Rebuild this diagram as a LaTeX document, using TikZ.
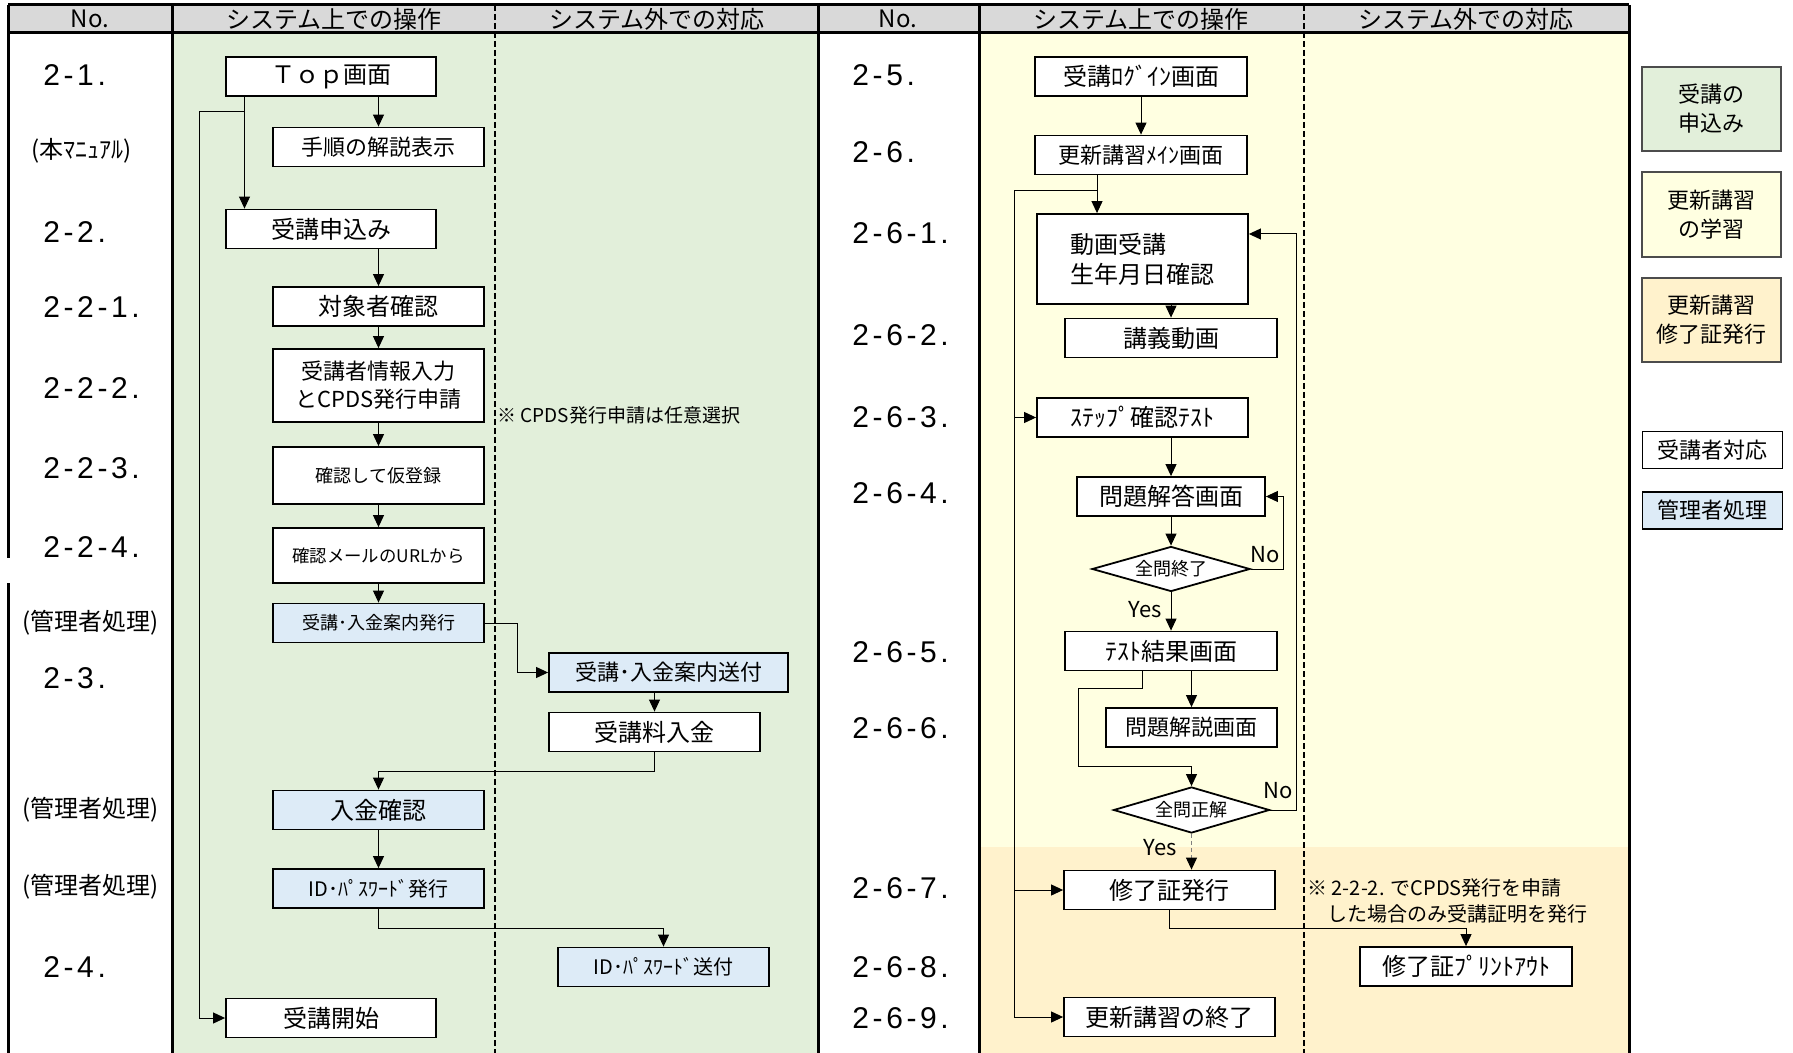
\documentclass[tikz,border=0pt]{standalone}
\usepackage{fontspec}
\setmainfont{Noto Sans CJK JP}
\newfontfamily\numfont[LetterSpace=12]{Liberation Sans}
\usepackage{tikz}
\usepackage{xcolor}
\usetikzlibrary{arrows.meta,shapes.geometric}

\definecolor{hdgray}{HTML}{D9D9D9}
\definecolor{appgreen}{HTML}{E2EFDA}
\definecolor{stdyellow}{HTML}{FFFFE1}
\definecolor{crtorange}{HTML}{FFF2CC}
\definecolor{admblue}{HTML}{DDEBF7}

\begin{document}
\begin{tikzpicture}[x=0.5pt,y=-0.5pt,
  >={Triangle[length=6pt,width=5.5pt]},
  wbox/.style={draw,line width=0.9pt,fill=white,minimum width=105pt,minimum height=19.5pt,inner sep=0pt,align=center,font=\fontsize{12}{14}\selectfont},
  abox/.style={wbox,fill=admblue},
  decision/.style={diamond,draw,line width=0.9pt,fill=white,aspect=3.5,minimum width=79pt,minimum height=22.5pt,inner sep=0pt,font=\fontsize{9}{10}\selectfont},
  numlbl/.style={anchor=west,inner sep=0pt,font=\numfont\fontsize{15}{17}\selectfont},
  lbl/.style={anchor=west,inner sep=0pt,font=\fontsize{12}{14}\selectfont},
  hd/.style={inner sep=0pt,font=\fontsize{12}{14}\selectfont},
  yn/.style={inner sep=0pt,font=\fontsize{11}{13}\selectfont},
  remark/.style={anchor=west,inner sep=0pt,align=left,font=\fontsize{9.5}{13}\selectfont},
  keybox/.style={draw=black!70,line width=0.8pt,minimum width=69.5pt,inner sep=0pt,align=center,font=\fontsize{11}{14.5}\selectfont},
  edgeline/.style={line width=1.5pt},
  dashline/.style={line width=1.2pt,dash pattern=on 3pt off 1.5pt},
  link/.style={->,line width=0.5pt}]
\useasboundingbox (0,0) rectangle (1793,1053);

% backgrounds
\fill[hdgray] (8,5) rectangle (1629,33);
\fill[appgreen] (172,33) rectangle (818,1053);
\fill[stdyellow] (979,33) rectangle (1629,847);
\fill[crtorange] (979,847) rectangle (1629,1053);

% table lines
\draw[edgeline] (8,5) -- (1629,5);
\draw[edgeline] (8,33) -- (1629,33);
\draw[edgeline] (8,5) -- (8,558);
\draw[edgeline] (8,583) -- (8,1053);
\draw[edgeline] (172,5) -- (172,1053);
\draw[edgeline] (818,5) -- (818,1053);
\draw[edgeline] (979,5) -- (979,1053);
\draw[edgeline] (1629,5) -- (1629,1053);
\draw[dashline] (495,5) -- (495,1053);
\draw[dashline] (1304,5) -- (1304,1053);

\node[hd] (h1) at (90,19) {No.};
\node[hd] (h2) at (334,19) {システム上での操作};
\node[hd] (h3) at (657,19) {システム外での対応};
\node[hd] (h4) at (898,19) {No.};
\node[hd] (h5) at (1141,19) {システム上での操作};
\node[hd] (h6) at (1466,19) {システム外での対応};

% numbers, left
\node[numlbl] (n1) at (43,75) {2-1.};
\node[lbl] (n2) at (31,151) {(本ﾏﾆｭｱﾙ)};
\node[numlbl] (n3) at (43,232) {2-2.};
\node[numlbl] (n4) at (43,307) {2-2-1.};
\node[numlbl] (n5) at (43,388) {2-2-2.};
\node[numlbl] (n6) at (43,468) {2-2-3.};
\node[numlbl] (n7) at (43,547) {2-2-4.};
\node[lbl] (n8) at (22,623) {(管理者処理)};
\node[numlbl] (n9) at (43,678) {2-3.};
\node[lbl] (n10) at (22,810) {(管理者処理)};
\node[lbl] (n11) at (22,887) {(管理者処理)};
\node[numlbl] (n12) at (43,967) {2-4.};

% numbers, right
\node[numlbl] (m1) at (852,75) {2-5.};
\node[numlbl] (m2) at (852,152) {2-6.};
\node[numlbl] (m3) at (852,233) {2-6-1.};
\node[numlbl] (m4) at (852,335) {2-6-2.};
\node[numlbl] (m5) at (852,417) {2-6-3.};
\node[numlbl] (m6) at (852,493) {2-6-4.};
\node[numlbl] (m7) at (852,652) {2-6-5.};
\node[numlbl] (m8) at (852,728) {2-6-6.};
\node[numlbl] (m9) at (852,888) {2-6-7.};
\node[numlbl] (m10) at (852,967) {2-6-8.};
\node[numlbl] (m11) at (852,1018) {2-6-9.};

% application flow
\node[wbox] (a1) at (331,76.5) {Ｔｏｐ画面};
\node[wbox,minimum width=105.5pt,font=\fontsize{11}{13}\selectfont] (a2) at (378.5,147) {手順の解説表示};
\node[wbox] (a3) at (331,229) {受講申込み};
\node[wbox,minimum width=105.5pt] (a4) at (378.5,306.5) {対象者確認};
\node[wbox,minimum width=105.5pt,minimum height=36.5pt,font=\fontsize{11}{14}\selectfont] (a5) at (378.5,385.5) {受講者情報入力\\とCPDS発行申請};
\node[wbox,minimum width=105.5pt,minimum height=28.5pt,font=\fontsize{9}{11}\selectfont] (a6) at (378.5,475.5) {確認して仮登録};
\node[wbox,minimum width=105.5pt,minimum height=27.5pt,font=\fontsize{8.7}{11}\selectfont] (a7) at (378.5,555.5) {確認メールのURLから};
\node[abox,minimum width=105.5pt,font=\fontsize{9}{11}\selectfont] (a8) at (378.5,623) {受講･入金案内発行};
\node[abox,minimum width=119.5pt,font=\fontsize{11}{13}\selectfont] (a9) at (668.5,672.5) {受講･入金案内送付};
\node[wbox,minimum width=105.5pt] (a10) at (654.5,732) {受講料入金};
\node[abox,minimum width=105.5pt] (a11) at (378.5,810) {入金確認};
\node[abox,minimum width=105.5pt,font=\fontsize{10}{12}\selectfont] (a12) at (378.5,888.5) {ID･ﾊﾟｽﾜｰﾄﾞ発行};
\node[abox,minimum width=105.5pt,font=\fontsize{10}{12}\selectfont] (a13) at (663.5,967) {ID･ﾊﾟｽﾜｰﾄﾞ送付};
\node[wbox] (a14) at (331,1018) {受講開始};
\node[remark] (r1) at (497,415) {※ CPDS発行申請は任意選択};

\coordinate (c1) at (244.5,112);
\coordinate (c2) at (199,112);
\coordinate (c3) at (517,623);
\coordinate (c4) at (654.5,771);
\coordinate (c5) at (378.5,928);
\draw[link] (a1.south -| a2.north) -- (a2.north);
\draw[line width=0.5pt] (a1.south -| c1) -- (c1);
\draw[link] (c1) -- (a3.north -| c1);
\draw[link] (c1) -- (c2) |- (a14.west);
\draw[link] (a3.south -| a4.north) -- (a4.north);
\draw[link] (a4) -- (a5);
\draw[link] (a5) -- (a6);
\draw[link] (a6) -- (a7);
\draw[link] (a7) -- (a8);
\draw[link] (a8.east) -- (c3) |- (a9.west);
\draw[link] (a9.south -| a10.north) -- (a10.north);
\draw[link] (a10.south) -- (c4) -| (a11.north);
\draw[link] (a11) -- (a12);
\draw[link] (a12.south) -- (c5) -| (a13.north);

% study flow
\node[wbox,minimum width=106pt] (b1) at (1141,76.5) {受講ﾛｸﾞｲﾝ画面};
\node[wbox,minimum width=106pt,font=\fontsize{11}{13}\selectfont] (b2) at (1141,155) {更新講習ﾒｲﾝ画面};
\node[wbox,minimum width=105.5pt,minimum height=45pt,align=left,font=\fontsize{12}{15}\selectfont] (b3) at (1142.5,259) {動画受講\\生年月日確認};
\node[wbox,minimum width=106pt] (b4) at (1171,338) {講義動画};
\node[wbox,minimum width=105.5pt] (b5) at (1142.5,417.5) {ｽﾃｯﾌﾟ確認ﾃｽﾄ};
\node[wbox,minimum width=94pt] (b6) at (1171,496.5) {問題解答画面};
\node[decision] (d1) at (1171,569) {全問終了};
\node[wbox,minimum width=106pt] (b7) at (1171,651) {ﾃｽﾄ結果画面};
\node[wbox,minimum width=85.5pt,font=\fontsize{11}{13}\selectfont] (b8) at (1191.5,727.5) {問題解説画面};
\node[decision,minimum width=78pt,minimum height=23pt] (d2) at (1191.5,810) {全問正解};
\node[wbox,minimum width=105.5pt] (b9) at (1169.5,890) {修了証発行};
\node[wbox,minimum width=106pt] (b10) at (1466,966.5) {修了証ﾌﾟﾘﾝﾄｱｳﾄ};
\node[wbox,minimum width=105.5pt] (b11) at (1169.5,1017) {更新講習の終了};
\node[remark,font=\fontsize{10}{13}\selectfont] (r2) at (1307,901) {※ 2-2-2. でCPDS発行を申請\\\hspace*{1em}した場合のみ受講証明を発行};
\node[yn] (y1) at (1265,555) {No};
\node[yn] (y2) at (1145,610) {Yes};
\node[yn] (y3) at (1278,791) {No};
\node[yn] (y4) at (1160,848) {Yes};

\coordinate (e1) at (1097,191);
\coordinate (e2) at (1014,191);
\coordinate (e3) at (1283,569);
\coordinate (e4) at (1142,688);
\coordinate (e5) at (1078,766);
\coordinate (e6) at (1296,810);
\coordinate (e7) at (1296,234);
\coordinate (e8) at (1169.5,928);
\draw[link] (b1) -- (b2);
\draw[line width=0.5pt] (b2.south -| e1) -- (e1);
\draw[link] (e1) -- (b3.north -| e1);
\draw[link] (e1) -- (e2) |- (b11.west);
\draw[link] (e2 |- b5.west) -- (b5.west);
\draw[link] (e2 |- b9.west) -- (b9.west);
\draw[link] (b3.south -| b4.north) -- (b4.north);
\draw[link] (b5.south -| b6.north) -- (b6.north);
\draw[link] (b6) -- (d1);
\draw[link] (d1.east) -- (e3) |- (b6.east);
\draw[link] (d1) -- (b7);
\draw[link] (b7.south -| b8.north) -- (b8.north);
\draw[link] (b7.south -| e4) -- (e4) -| (e5) -| (d2.north);
\draw[link] (d2.east) -- (e6) -- (e7) -- (b3.east |- e7);
\draw[line width=0.5pt,gray,dash pattern=on 2pt off 1.5pt,-{Triangle[length=6pt,width=5.5pt,black]}] (d2.south) -- (b9.north -| d2.south);
\draw[link] (b9.south) -- (e8) -| (b10.north);

% legend
\node[keybox,fill=appgreen,minimum height=42pt] (k1) at (1711.5,109) {受講の\\申込み};
\node[keybox,fill=stdyellow,minimum height=42.5pt] (k2) at (1711.5,214.5) {更新講習\\の学習};
\node[keybox,fill=crtorange,minimum height=42pt] (k3) at (1711.5,320) {更新講習\\修了証発行};
\node[keybox,draw=black,fill=white,minimum width=70pt,minimum height=18.5pt] (k4) at (1712.5,450) {受講者対応};
\node[keybox,draw=black,fill=admblue,minimum width=70pt,minimum height=18.5pt] (k5) at (1712.5,510.5) {管理者処理};
\end{tikzpicture}
\end{document}
